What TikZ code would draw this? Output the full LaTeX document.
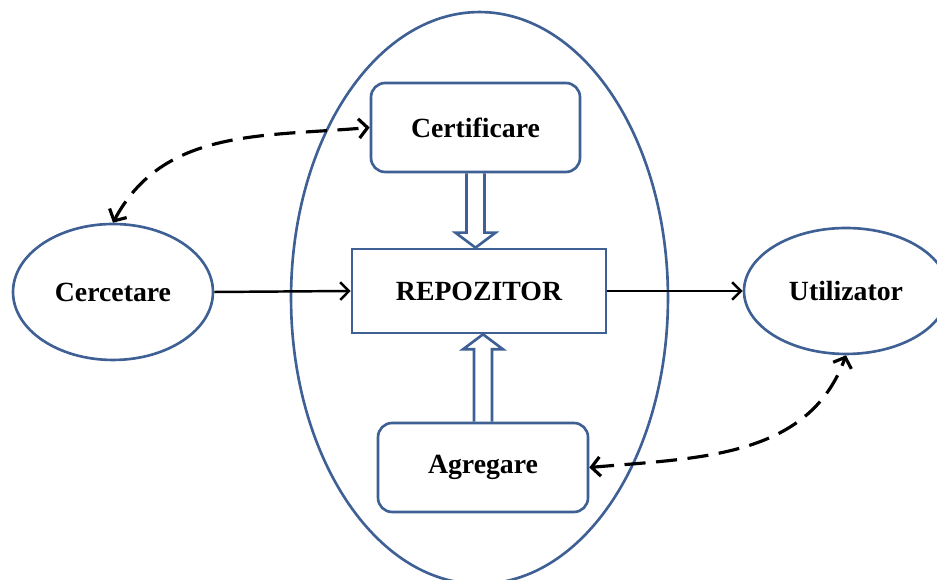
\documentclass[tikz,border=0pt]{standalone}
\usepackage{fontspec}
\setmainfont{Liberation Serif}
\usetikzlibrary{arrows.meta, shapes.geometric, calc}

\definecolor{outline}{RGB}{62,96,148}

\tikzset{
    oval/.style={draw=outline, line width=1.5pt, ellipse, inner sep=0pt},
    roundbox/.style={draw=outline, line width=1.5pt, rounded corners=8pt, inner sep=0pt},
    plainbox/.style={draw=outline, line width=1.5pt, inner sep=0pt},
    label/.style={font=\fontsize{15.8}{18}\selectfont\bfseries},
    flow/.style={-{Straight Barb[length=5pt,width=10pt]}, line width=1.4pt},
    link/.style={{Straight Barb[length=5pt,width=11pt]}-{Straight Barb[length=5pt,width=11pt]}, line width=1.8pt, dash pattern=on 12pt off 6pt},
    hollow/.style={draw=outline, line width=1.5pt, line join=miter}
}

\begin{document}
\begin{tikzpicture}[x=0.02cm, y=0.02cm]
            \useasboundingbox (0,0) rectangle (937,580);
            % big ellipse round the repository
            \node[oval, minimum width=7.54cm, minimum height=11.44cm] (sys) at (479.5,282) {};
            % nodes
            \node[oval, label, minimum width=4cm, minimum height=2.72cm] (cer) at (113,288) {Cercetare};
            \node[oval, label, minimum width=4.08cm, minimum height=2.52cm] (uti) at (846,289) {Utilizator};
            \node[roundbox, label, minimum width=4.18cm, minimum height=1.78cm] (cert) at (475.5,452.5) {Certificare};
            \node[plainbox, label, minimum width=5.08cm, minimum height=1.68cm] (repo) at (479,289) {REPOZITOR};
            \node[roundbox, label, minimum width=4.2cm, minimum height=1.78cm] (agr) at (483,112.5) {Agregare};
            % solid arrows
            \draw[flow] (cer.east) -- (repo.west);
            \draw[flow] (repo.east) -- (uti.west);
            % hollow arrows
            \coordinate (t1) at (cert.south |- repo.north);
            \coordinate (t2) at (agr.north |- repo.south);
            \draw[hollow] ($(cert.south)+(-9,0)$) -- ($(t1)+(-9,15)$) -- ($(t1)+(-20,15)$) -- (t1)
                -- ($(t1)+(20,15)$) -- ($(t1)+(9,15)$) -- ($(cert.south)+(9,0)$);
            \draw[hollow] ($(agr.north)+(-9,0)$) -- ($(t2)+(-9,-15)$) -- ($(t2)+(-20,-15)$) -- (t2)
                -- ($(t2)+(20,-15)$) -- ($(t2)+(9,-15)$) -- ($(agr.north)+(9,0)$);
            % dashed links
            \draw[link] (cer.north) to[out=62, in=185] (cert.west);
            \draw[link] (agr.east) to[out=5, in=250] (uti.south);
        \end{tikzpicture}
\end{document}
